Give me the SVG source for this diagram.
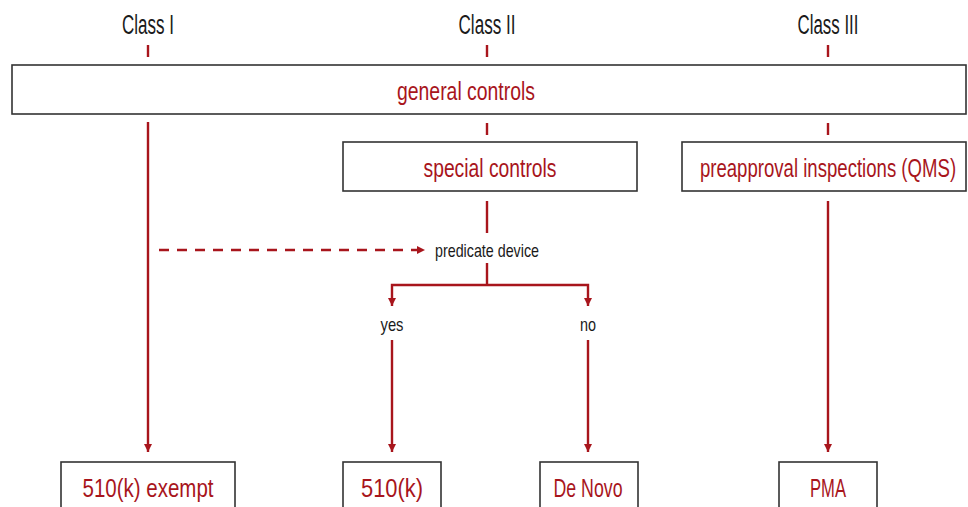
<svg xmlns="http://www.w3.org/2000/svg" width="968" height="507" viewBox="0 0 968 507">
<style>
.box{fill:#fff;stroke:#333;stroke-width:1.6}
.red{fill:#a8151c;font-family:"Liberation Sans",Arial,sans-serif;font-size:26px;text-anchor:middle}
.blk{fill:#1a1a1a;font-family:"Liberation Sans",Arial,sans-serif;text-anchor:middle}
.ln{stroke:#a8151c;stroke-width:2.4;fill:none}
</style>
<defs>
<marker id="ah" markerWidth="10" markerHeight="10" refX="9" refY="5" orient="auto-start-reverse" markerUnits="userSpaceOnUse">
<path d="M1,1 L9,5 L1,9 Z" fill="#a8151c"/>
</marker>
</defs>
<rect width="968" height="507" fill="#fff"/>
<g id="class1"><text class="blk" x="148" y="34" font-size="27" textLength="52" lengthAdjust="spacingAndGlyphs">Class I</text></g>
<g id="class2"><text class="blk" x="487" y="34" font-size="27" textLength="57" lengthAdjust="spacingAndGlyphs">Class II</text></g>
<g id="class3"><text class="blk" x="828" y="34" font-size="27" textLength="61" lengthAdjust="spacingAndGlyphs">Class III</text></g>
<g id="general"><rect class="box" x="12" y="65" width="954" height="49"/><text class="red" x="466" y="100" textLength="138" lengthAdjust="spacingAndGlyphs">general controls</text></g>
<g id="special"><rect class="box" x="343" y="142" width="294" height="49"/><text class="red" x="490" y="177" textLength="133" lengthAdjust="spacingAndGlyphs">special controls</text></g>
<g id="preapproval"><rect class="box" x="682" y="142" width="284" height="49"/><text class="red" transform="translate(828,177) scale(0.715,1)" x="0" y="0">preapproval inspections (QMS)</text></g>
<g id="predicate"><text class="blk" x="487" y="257" font-size="19" textLength="104" lengthAdjust="spacingAndGlyphs">predicate device</text></g>
<g id="yes"><text class="blk" x="392" y="331" font-size="19" textLength="23" lengthAdjust="spacingAndGlyphs">yes</text></g>
<g id="no"><text class="blk" x="588" y="331" font-size="19" textLength="16" lengthAdjust="spacingAndGlyphs">no</text></g>
<g id="exempt"><rect class="box" x="61" y="462" width="174" height="60"/><text class="red" x="148" y="497" textLength="131" lengthAdjust="spacingAndGlyphs">510(k) exempt</text></g>
<g id="k510"><rect class="box" x="343" y="462" width="98" height="60"/><text class="red" x="392" y="497" textLength="62" lengthAdjust="spacingAndGlyphs">510(k)</text></g>
<g id="denovo"><rect class="box" x="540" y="462" width="98" height="60"/><text class="red" x="588" y="497" textLength="69" lengthAdjust="spacingAndGlyphs">De Novo</text></g>
<g id="pma"><rect class="box" x="779" y="462" width="98" height="60"/><text class="red" x="828" y="497" textLength="36" lengthAdjust="spacingAndGlyphs">PMA</text></g>
<g id="connectors">
<line class="ln" x1="148" y1="45" x2="148" y2="57"/>
<line class="ln" x1="487" y1="45" x2="487" y2="57"/>
<line class="ln" x1="828" y1="45" x2="828" y2="57"/>
<line class="ln" x1="487" y1="123" x2="487" y2="135"/>
<line class="ln" x1="828" y1="123" x2="828" y2="135"/>
<line class="ln" x1="148" y1="122" x2="148" y2="452" marker-end="url(#ah)"/>
<line class="ln" x1="828" y1="201" x2="828" y2="452" marker-end="url(#ah)"/>
<line class="ln" x1="487" y1="201" x2="487" y2="233"/>
<line class="ln" x1="159" y1="250" x2="425" y2="250" stroke-dasharray="10 8" marker-end="url(#ah)"/>
<line class="ln" x1="487" y1="263" x2="487" y2="285"/>
<polyline class="ln" points="392,306 392,285 588,285 588,306" marker-start="url(#ah)" marker-end="url(#ah)"/>
<line class="ln" x1="392" y1="340" x2="392" y2="452" marker-end="url(#ah)"/>
<line class="ln" x1="588" y1="340" x2="588" y2="452" marker-end="url(#ah)"/>
</g>
</svg>
